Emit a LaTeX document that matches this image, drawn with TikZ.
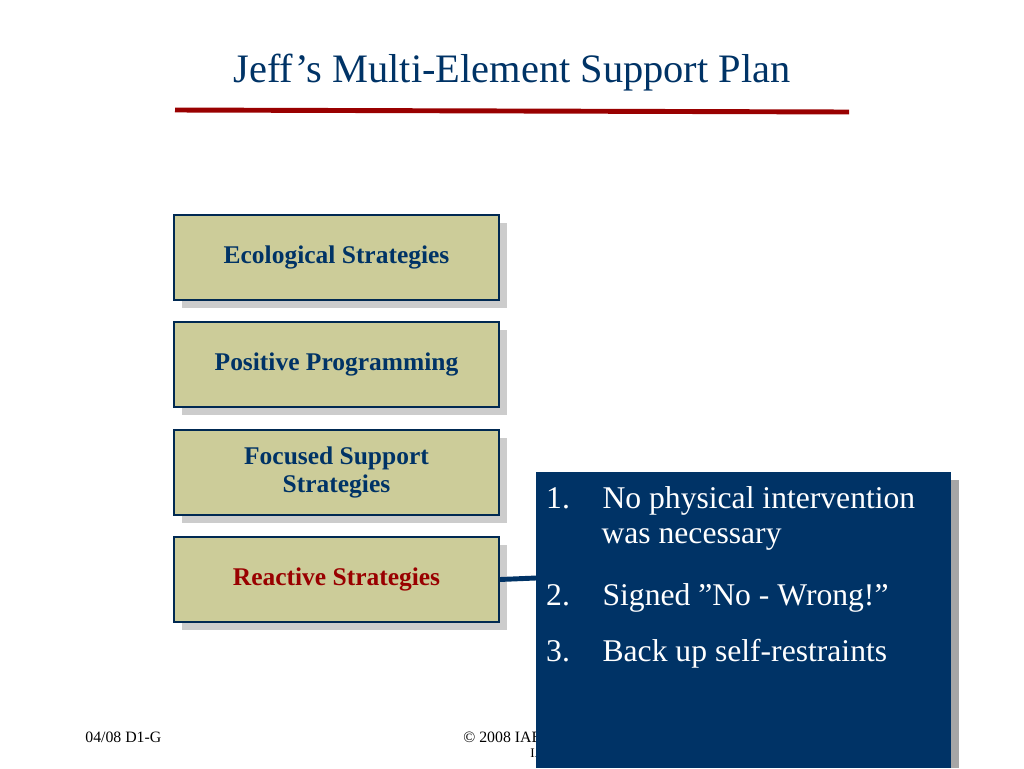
\documentclass[tikz,border=0pt]{standalone}
\usepackage{fontspec}
\setmainfont{Liberation Serif}
\usetikzlibrary{shadows}
\definecolor{navy}{RGB}{0,51,102}
\definecolor{darkred}{RGB}{153,0,0}
\definecolor{khaki}{RGB}{204,204,153}
\tikzset{
    box/.style = {draw=navy!80!black, fill=khaki, line width=1pt,
        minimum width=6.5cm, minimum height=1.7cm, align=center,
        font=\fontsize{14.5}{16}\selectfont\bfseries, text=navy,
        drop shadow={shadow xshift=0.16cm, shadow yshift=-0.16cm, fill=gray!80}},
    item/.style = {anchor=north west, text=white, align=left,
        font=\fontsize{18}{20}\selectfont},
    footer/.style = {font=\fontsize{9}{10}\selectfont, inner sep=0pt}
}
\begin{document}
\begin{tikzpicture}[x=0.02cm, y=-0.02cm]
    \useasboundingbox (0,0) rectangle (1024,768);

    \node[font=\fontsize{23}{26}\selectfont, text=navy] (title) at (512,73) {Jeff's Multi-Element Support Plan};
    \draw[darkred, line width=2.8pt] (175,110) -- (849,112);

    % the four elements
    \node[box] (eco) at (336.5,257.5) {Ecological Strategies};
    \node[box] (pos) at (336.5,364.5) {Positive Programming};
    \node[box] (foc) at (336.5,472.5) {Focused Support\\ Strategies};
    \node[box, text=darkred] (rea) at (336.5,579.5) {Reactive Strategies};

    % footer
    \node[footer, anchor=west] (date) at (85,737) {04/08 D1-G};
    \node[footer, anchor=west] (copy) at (463,737) {\copyright{} 2008 IABA};
    \node[footer, anchor=east, font=\fontsize{7.5}{8}\selectfont] (org) at (563,753) {IABA};

    % outcome panel
    \fill[gray!70] (544,480) rectangle (959,768);
    \fill[navy] (536,472) rectangle (951,768);
    \coordinate (panel) at (536,578);
    \draw[navy, line width=2.8pt] (rea.east) -- (panel);

    \node[item] (one) at (540,480) {1.\hspace{0.7em} No physical intervention\\ \hspace{1.75em}was necessary};
    \node[item] (two) at (540,577) {2.\hspace{0.7em} Signed "No - Wrong!"};
    \node[item] (three) at (540,633) {3.\hspace{0.7em} Back up self-restraints};
\end{tikzpicture}
\end{document}
